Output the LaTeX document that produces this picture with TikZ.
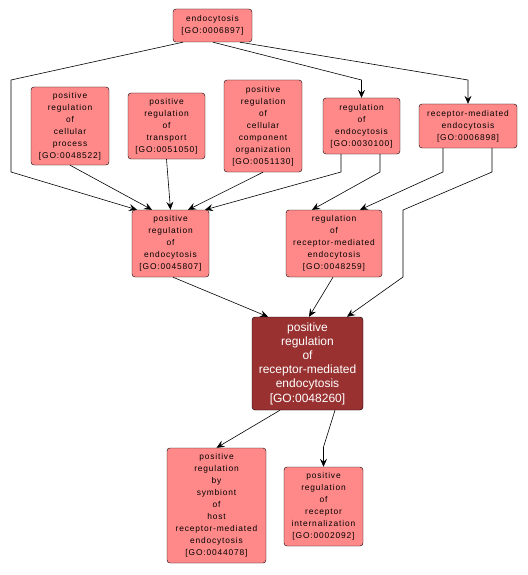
\documentclass[tikz,border=0pt]{standalone}
\usepackage{fontspec}
\usepackage{tikz}
\usetikzlibrary{arrows.meta}
\newfontfamily\gofont[LetterSpace=10]{Liberation Sans}
\newfontfamily\gomain{Liberation Sans}
\definecolor{termfill}{RGB}{255,137,137}
\definecolor{mainfill}{RGB}{153,49,49}
\tikzset{term/.style={draw,rounded corners=3pt,align=center,fill=termfill,inner sep=0pt,
    font=\gofont\fontsize{8.4}{12}\selectfont},
  mainterm/.style={term,fill=mainfill,text=white,font=\gomain\fontsize{12}{14.2}\selectfont},
  arr/.style={-{Stealth[length=8pt,width=7pt,inset=3pt]},line width=0.6pt}}
\begin{document}
\begin{tikzpicture}[x=1pt,y=-1pt]
\useasboundingbox (0,0) rectangle (527,575);
\node[term,minimum width=79pt,minimum height=33pt] (endo) at (212.5,25.5){endocytosis\\{[GO:0006897]}};
\node[term,minimum width=78pt,minimum height=78pt] (pcp) at (70,126){positive\\regulation\\of\\cellular\\process\\{[GO:0048522]}};
\node[term,minimum width=77pt,minimum height=66pt] (ptr) at (166.5,126){positive\\regulation\\of\\transport\\{[GO:0051050]}};
\node[term,minimum width=78pt,minimum height=92pt] (pcco) at (263,126){positive\\regulation\\of\\cellular\\component\\organization\\{[GO:0051130]}};
\node[term,minimum width=77pt,minimum height=56pt] (reg) at (361.5,126){regulation\\of\\endocytosis\\{[GO:0030100]}};
\node[term,minimum width=98pt,minimum height=44pt] (rme) at (468,126){receptor-mediated\\endocytosis\\{[GO:0006898]}};
\node[term,minimum width=77pt,minimum height=67pt] (pre) at (170.5,243.5){positive\\regulation\\of\\endocytosis\\{[GO:0045807]}};
\node[term,minimum width=96pt,minimum height=67pt] (rrme) at (334,243.5){regulation\\of\\receptor-mediated\\endocytosis\\{[GO:0048259]}};
\node[mainterm,minimum width=111pt,minimum height=93pt] (main) at (307.5,363.5){positive\\regulation\\of\\receptor-mediated\\endocytosis\\{[GO:0048260]}};
\node[term,minimum width=99pt,minimum height=115pt] (sym) at (216.5,505.5){positive\\regulation\\by\\symbiont\\of\\host\\receptor-mediated\\endocytosis\\{[GO:0044078]}};
\node[term,minimum width=79pt,minimum height=79pt] (rin) at (323.5,506.5){positive\\regulation\\of\\receptor\\internalization\\{[GO:0002092]}};
\draw[arr] ([xshift=-29.5pt]endo.south)--(11,80)--(11,172)--([xshift=-33.5pt]pre.north);
\draw[arr] ([xshift=0.5pt]endo.south)--(361.5,80)--(reg.north);
\draw[arr] ([xshift=27.5pt]endo.south)--(468,80)--(rme.north);
\draw[arr] (pcp.south)--([xshift=-18.5pt]pre.north);
\draw[arr] (ptr.south)--(pre.north);
\draw[arr] (pcco.south)--([xshift=17.5pt]pre.north);
\draw[arr] ([xshift=-20.5pt]reg.south)--(341,172)--([xshift=34.5pt]pre.north);
\draw[arr] ([xshift=18.5pt]reg.south)--(380,172)--([xshift=-22pt]rrme.north);
\draw[arr] ([xshift=-25pt]rme.south)--(443,172)--([xshift=26pt]rrme.north);
\draw[arr] ([xshift=24pt]rme.south)--(492,172)--(403,210)--(403,277)--([xshift=39.5pt]main.north);
\draw[arr] ([xshift=2.5pt]pre.south)--([xshift=-39.5pt]main.north);
\draw[arr] ([xshift=-1pt]rrme.south)--([xshift=1.5pt]main.north);
\draw[arr] ([xshift=-27.5pt]main.south)--(sym.north);
\draw[arr] ([xshift=27.5pt]main.south)--(323.5,447)--(rin.north);
\end{tikzpicture}
\end{document}
